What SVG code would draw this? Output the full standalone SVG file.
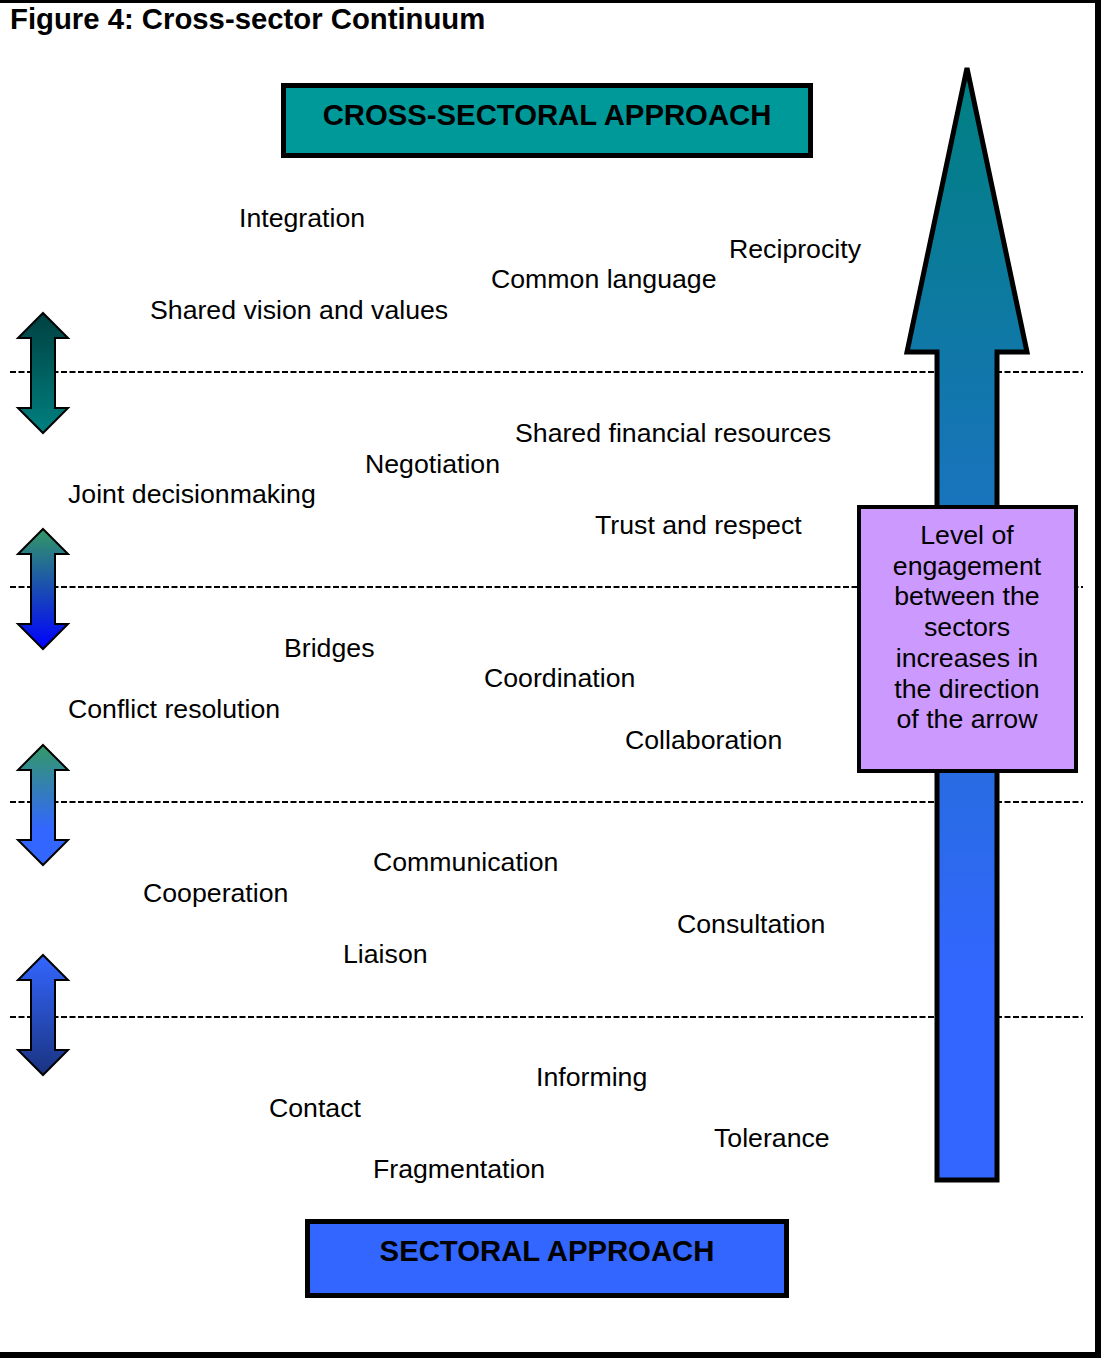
<svg xmlns="http://www.w3.org/2000/svg" width="1101" height="1358" viewBox="0 0 1101 1358">
  <style>
    .lbl { font-family: "Liberation Sans", Arial, sans-serif; font-size: 26.7px; fill: #000; }
    .bold { font-family: "Liberation Sans", Arial, sans-serif; font-size: 29.3px; font-weight: bold; fill: #000; }
    .dash { stroke: #000; stroke-width: 2; stroke-dasharray: 6 2.5; fill: none; }
    .box { stroke: #000; stroke-width: 5; }
    .darrow { stroke: #000; stroke-width: 2; stroke-linejoin: miter; }
  </style>
  <defs>
    <linearGradient id="gBig" x1="0" y1="0" x2="0" y2="1">
      <stop offset="0" stop-color="#008080"/>
      <stop offset="0.82" stop-color="#3366ff"/>
      <stop offset="1" stop-color="#3366ff"/>
    </linearGradient>
    <linearGradient id="g1" x1="0" y1="0" x2="0" y2="1">
      <stop offset="0" stop-color="#004040"/>
      <stop offset="1" stop-color="#008080"/>
    </linearGradient>
    <linearGradient id="g2" x1="0" y1="0" x2="0" y2="1">
      <stop offset="0" stop-color="#339966"/>
      <stop offset="1" stop-color="#0000ff"/>
    </linearGradient>
    <linearGradient id="g3" x1="0" y1="0" x2="0" y2="1">
      <stop offset="0" stop-color="#339966"/>
      <stop offset="0.7" stop-color="#3366ff"/>
      <stop offset="1" stop-color="#3366ff"/>
    </linearGradient>
    <linearGradient id="g4" x1="0" y1="0" x2="0" y2="1">
      <stop offset="0" stop-color="#3366ff"/>
      <stop offset="1" stop-color="#1a3380"/>
    </linearGradient>
    <path id="dbl" d="M43,0 L68,25 L55,25 L55,95 L68,95 L43,120 L18,95 L31,95 L31,25 L18,25 Z"/>
  </defs>

  <rect x="0" y="0" width="1101" height="1358" fill="#fff"/>
  <g id="frame" fill="#000">
    <rect x="0" y="0" width="1101" height="3"/>
    <rect x="1095" y="0" width="6" height="1358"/>
    <rect x="0" y="1352" width="1101" height="6"/>
  </g>

  <text id="title" class="bold" x="10" y="29">Figure 4: Cross-sector Continuum</text>

  <g id="connectors">
    <line class="dash" x1="10" y1="372" x2="1083" y2="372"/>
    <line class="dash" x1="10" y1="587" x2="1083" y2="587"/>
    <line class="dash" x1="10" y1="802" x2="1083" y2="802"/>
    <line class="dash" x1="10" y1="1017" x2="1083" y2="1017"/>
  </g>

  <g id="level-arrows">
    <use href="#dbl" class="darrow" fill="url(#g1)" transform="translate(0,313)"/>
    <use href="#dbl" class="darrow" fill="url(#g2)" transform="translate(0,529)"/>
    <use href="#dbl" class="darrow" fill="url(#g3)" transform="translate(0,745)"/>
    <use href="#dbl" class="darrow" fill="url(#g4)" transform="translate(0,955)"/>
  </g>

  <g id="big-arrow">
    <path d="M967,68 L1027,352 L997,352 L997,1180 L937,1180 L937,352 L907,352 Z" fill="url(#gBig)" stroke="#000" stroke-width="5" stroke-linejoin="miter"/>
  </g>

  <g id="engagement-box">
    <rect x="859" y="507" width="217" height="264" fill="#cc99ff" stroke="#000" stroke-width="4"/>
    <text class="lbl" text-anchor="middle" x="967" y="544">Level of</text>
    <text class="lbl" text-anchor="middle" x="967" y="575">engagement</text>
    <text class="lbl" text-anchor="middle" x="967" y="605">between the</text>
    <text class="lbl" text-anchor="middle" x="967" y="636">sectors</text>
    <text class="lbl" text-anchor="middle" x="967" y="667">increases in</text>
    <text class="lbl" text-anchor="middle" x="967" y="698">the direction</text>
    <text class="lbl" text-anchor="middle" x="967" y="728">of the arrow</text>
  </g>

  <g id="cross-sectoral">
    <rect class="box" x="283.5" y="85.5" width="527" height="70" fill="#009999"/>
    <text class="bold" text-anchor="middle" x="547" y="125">CROSS-SECTORAL APPROACH</text>
  </g>

  <g id="sectoral">
    <rect class="box" x="307.5" y="1221.5" width="479" height="74" fill="#3366ff"/>
    <text class="bold" text-anchor="middle" x="547" y="1261">SECTORAL APPROACH</text>
  </g>

  <g id="terms">
    <text class="lbl" x="239" y="227">Integration</text>
    <text class="lbl" x="729" y="258">Reciprocity</text>
    <text class="lbl" x="491" y="288">Common language</text>
    <text class="lbl" x="150" y="319">Shared vision and values</text>
    <text class="lbl" x="515" y="442">Shared financial resources</text>
    <text class="lbl" x="365" y="473">Negotiation</text>
    <text class="lbl" x="68" y="503">Joint decisionmaking</text>
    <text class="lbl" x="595" y="534">Trust and respect</text>
    <text class="lbl" x="284" y="657">Bridges</text>
    <text class="lbl" x="484" y="687">Coordination</text>
    <text class="lbl" x="68" y="718">Conflict resolution</text>
    <text class="lbl" x="625" y="749">Collaboration</text>
    <text class="lbl" x="373" y="871">Communication</text>
    <text class="lbl" x="143" y="902">Cooperation</text>
    <text class="lbl" x="677" y="933">Consultation</text>
    <text class="lbl" x="343" y="963">Liaison</text>
    <text class="lbl" x="536" y="1086">Informing</text>
    <text class="lbl" x="269" y="1117">Contact</text>
    <text class="lbl" x="714" y="1147">Tolerance</text>
    <text class="lbl" x="373" y="1178">Fragmentation</text>
  </g>
</svg>
